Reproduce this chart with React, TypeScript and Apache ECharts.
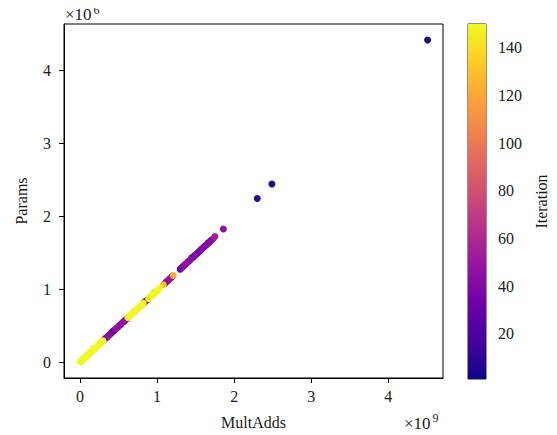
import React, { useEffect, useRef } from "react";
import * as echarts from "echarts";

// MultAdds in units of 1e9, Params in units of 1e6
const lowX = [4.51, 2.49, 2.30, 1.455, 0.43, 1.50];
const lowY = [4.41, 2.44, 2.24, 1.433, 0.425, 1.47];
const lowIter = [2, 7, 9, 12, 16, 20];

const purpleX = [0.06, 0.18, 0.31, 0.33, 0.35, 0.37, 0.39, 0.41, 0.45, 0.47, 0.49, 0.51, 0.53, 0.55, 0.57, 0.59, 0.61, 0.70, 0.83, 0.85, 0.87, 0.96, 1.10, 1.12, 1.14, 1.16, 1.18, 1.20, 1.30, 1.32, 1.34, 1.36, 1.38, 1.40, 1.42, 1.44, 1.47, 1.49, 1.52, 1.54, 1.56, 1.58, 1.60, 1.62, 1.64, 1.66, 1.68, 1.70, 1.72, 1.75, 1.86];
const purpleY = [0.058, 0.177, 0.302, 0.325, 0.341, 0.364, 0.380, 0.403, 0.438, 0.462, 0.478, 0.502, 0.517, 0.541, 0.556, 0.580, 0.597, 0.686, 0.812, 0.834, 0.851, 0.942, 1.076, 1.099, 1.115, 1.138, 1.154, 1.177, 1.272, 1.296, 1.311, 1.335, 1.350, 1.374, 1.389, 1.413, 1.438, 1.462, 1.487, 1.511, 1.526, 1.550, 1.565, 1.590, 1.604, 1.629, 1.643, 1.668, 1.683, 1.718, 1.822];
const purpleIter = [35, 40, 38, 42, 30, 45, 33, 28, 36, 48, 32, 44, 38, 50, 35, 42, 46, 40, 38, 45, 33, 42, 30, 44, 36, 50, 40, 34, 30, 36, 44, 40, 48, 34, 38, 42, 26, 40, 35, 30, 38, 42, 36, 32, 40, 35, 38, 44, 40, 56, 46];

const orangeX = [1.08, 1.21];
const orangeY = [1.058, 1.186];
const orangeIter = [132, 122];

const yellowX = [0.005, 0.01, 0.02, 0.03, 0.04, 0.05, 0.06, 0.07, 0.08, 0.09, 0.10, 0.11, 0.12, 0.13, 0.14, 0.15, 0.16, 0.17, 0.18, 0.19, 0.20, 0.21, 0.22, 0.23, 0.24, 0.25, 0.26, 0.27, 0.28, 0.29, 0.30, 0.62, 0.64, 0.66, 0.68, 0.70, 0.72, 0.74, 0.76, 0.78, 0.80, 0.82, 0.89, 0.91, 0.93, 0.95, 0.97, 0.99, 1.01, 1.03];
const yellowY = [0.006, 0.012, 0.018, 0.031, 0.037, 0.051, 0.056, 0.070, 0.076, 0.090, 0.095, 0.109, 0.115, 0.129, 0.135, 0.148, 0.154, 0.168, 0.173, 0.187, 0.193, 0.207, 0.213, 0.227, 0.232, 0.246, 0.252, 0.266, 0.271, 0.285, 0.292, 0.610, 0.624, 0.648, 0.662, 0.688, 0.702, 0.727, 0.741, 0.766, 0.780, 0.805, 0.868, 0.893, 0.907, 0.932, 0.946, 0.971, 0.985, 1.010];
const yellowIter = [148, 150, 146, 149, 143, 147, 150, 145, 148, 141, 149, 146, 150, 144, 147, 149, 142, 150, 146, 148, 145, 149, 147, 150, 143, 148, 146, 149, 144, 150, 147, 146, 149, 143, 150, 147, 145, 149, 148, 146, 150, 144, 148, 142, 150, 146, 149, 145, 147, 150];

const tickValues = [0, 1, 2, 3, 4];
const colorbarTicks = [20, 40, 60, 80, 100, 120, 140];
const iterMin = 1;
const iterMax = 150;

const plasma = ["#0d0887", "#46039f", "#7201a8", "#9c179e", "#bd3786", "#d8576b", "#ed7953", "#fb9f3a", "#fdca26", "#f0f921"];

const FONT = "Liberation Serif";
const TXT = "#1a1a1a";

export default function App() {
  const ref = useRef<HTMLDivElement>(null);
  useEffect(() => {
    if (!ref.current) return;
    const chart = echarts.init(ref.current, undefined, { renderer: "svg" });
    const pts: number[][] = [];
    const add = (xs: number[], ys: number[], its: number[]) => xs.forEach((x, i) => pts.push([x, ys[i], its[i]]));
    add(lowX, lowY, lowIter);
    add(purpleX, purpleY, purpleIter);
    add(orangeX, orangeY, orangeIter);
    add(yellowX, yellowY, yellowIter);
    pts.sort((a, b) => a[2] - b[2]);

    const stops = plasma.map((c, i) => ({ offset: 1 - i / (plasma.length - 1), color: c })).reverse();

    const axisCommon = {
      axisLine: { show: true, onZero: false, lineStyle: { color: "#000", width: 1 } },
      splitLine: { show: false },
      axisTick: { show: true, inside: false, length: 5, lineStyle: { color: "#000" } },
      nameTextStyle: { fontFamily: FONT, fontSize: 16, color: TXT },
    };

    chart.setOption({
      animation: false,
      backgroundColor: "#fff",
      grid: [
        { left: 64, right: 114, top: 24, bottom: 56, show: true, borderColor: "#000", borderWidth: 1 },
        { left: 468, width: 18, top: 24, bottom: 56, show: true, borderColor: "#222", borderWidth: 1 },
      ],
      xAxis: [
        {
          ...axisCommon,
          type: "value",
          gridIndex: 0,
          min: -0.208,
          max: 4.71,
          name: "MultAdds",
          nameLocation: "middle",
          nameGap: 36,
          axisTick: { ...axisCommon.axisTick, customValues: tickValues },
          axisLabel: { customValues: tickValues, margin: 10, fontFamily: FONT, fontSize: 16, color: TXT },
        },
        { type: "value", gridIndex: 1, min: 0, max: 1, show: false },
      ],
      yAxis: [
        {
          ...axisCommon,
          type: "value",
          gridIndex: 0,
          min: -0.218,
          max: 4.63,
          name: "Params",
          nameLocation: "middle",
          nameGap: 35,
          axisTick: { ...axisCommon.axisTick, customValues: tickValues },
          axisLabel: { customValues: tickValues, margin: 13, fontFamily: FONT, fontSize: 16, color: TXT },
        },
        {
          ...axisCommon,
          type: "value",
          gridIndex: 1,
          position: "right",
          min: iterMin,
          max: iterMax,
          name: "Iteration",
          nameLocation: "middle",
          nameGap: 47,
          nameRotate: 90,
          axisLine: { show: false },
          axisTick: { ...axisCommon.axisTick, customValues: colorbarTicks },
          axisLabel: { customValues: colorbarTicks, margin: 12, fontFamily: FONT, fontSize: 16, color: TXT },
        },
      ],
      visualMap: {
        show: false,
        type: "continuous",
        seriesIndex: 0,
        dimension: 2,
        min: iterMin,
        max: iterMax,
        inRange: { color: plasma },
      },
      graphic: [
        { type: "text", x: 65, y: 6, style: { text: "×10", fontFamily: FONT, fontSize: 17, fill: TXT, verticalAlign: "top" } },
        { type: "text", x: 93.5, y: 4, style: { text: "6", fontFamily: FONT, fontSize: 12, fill: TXT, verticalAlign: "top" } },
        { type: "text", x: 404, y: 415, style: { text: "×10", fontFamily: FONT, fontSize: 17, fill: TXT, verticalAlign: "top" } },
        { type: "text", x: 432.5, y: 412, style: { text: "9", fontFamily: FONT, fontSize: 12, fill: TXT, verticalAlign: "top" } },
      ],
      series: [
        {
          type: "scatter",
          xAxisIndex: 0,
          yAxisIndex: 0,
          symbolSize: 7,
          data: pts,
          itemStyle: { opacity: 1 },
        },
        {
          type: "custom",
          xAxisIndex: 1,
          yAxisIndex: 1,
          data: [[0, iterMax]],
          silent: true,
          renderItem: (_p: any, api: any) => {
            const a = api.coord([0, iterMax]);
            const b = api.coord([1, iterMin]);
            return {
              type: "rect",
              shape: { x: a[0], y: a[1], width: b[0] - a[0], height: b[1] - a[1] },
              style: { fill: new echarts.graphic.LinearGradient(0, 0, 0, 1, stops) },
            };
          },
        },
      ],
    });
    return () => chart.dispose();
  }, []);
  return <div ref={ref} style={{ width: 557, height: 435, marginLeft: -8, marginTop: -8 }} />;
}
